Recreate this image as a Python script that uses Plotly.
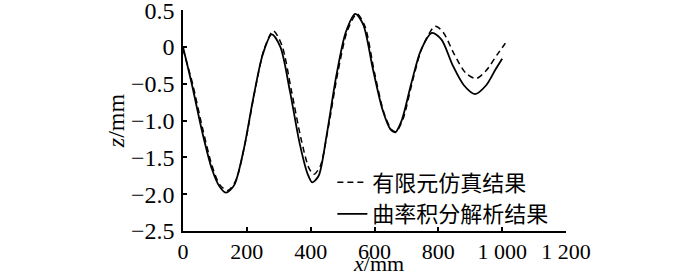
import plotly.graph_objects as go

# FEM simulation result (dashed)
fem_x = [0, 30, 60, 90, 115, 140, 165, 195, 225, 255, 283, 310, 340, 370, 395, 410, 430, 455, 485, 515,
         545, 570, 600, 630, 655, 668, 690, 720, 750, 790, 815, 850, 885, 918, 950, 985, 1010]
fem_z = [-0.03, -0.5, -1.08, -1.6, -1.87, -1.95, -1.82, -1.3, -0.6, -0.02, 0.22, 0.02, -0.6, -1.25, -1.65, -1.73,
         -1.62, -1.1, -0.35, 0.22, 0.45, 0.28, -0.35, -0.9, -1.13, -1.15, -0.97, -0.45, 0.0, 0.28, 0.2, -0.1,
         -0.35, -0.43, -0.32, -0.1, 0.05]

# Curvature integration analytical result (solid)
ana_x = [0, 30, 60, 90, 115, 135, 160, 190, 220, 250, 278, 305, 335, 365, 390, 405, 425, 450, 480, 510,
         540, 565, 595, 625, 650, 665, 685, 715, 745, 780, 810, 845, 880, 915, 950, 980, 1000]
ana_z = [0.0, -0.55, -1.15, -1.65, -1.9, -1.98, -1.88, -1.4, -0.7, -0.1, 0.17, 0.0, -0.6, -1.3, -1.72, -1.84,
         -1.75, -1.2, -0.4, 0.2, 0.45, 0.3, -0.3, -0.85, -1.12, -1.16, -1.0, -0.5, -0.05, 0.19, 0.1, -0.25,
         -0.52, -0.64, -0.52, -0.3, -0.16]

x_ticks = [0, 200, 400, 600, 800, 1000, 1200]
x_tick_text = ["0", "200", "400", "600", "800", "1 000", "1 200"]
y_ticks = [0.5, 0, -0.5, -1.0, -1.5, -2.0, -2.5]
y_tick_text = ["0.5", "0", "\u22120.5", "\u22121.0", "\u22121.5", "\u22122.0", "\u22122.5"]

fig = go.Figure()
fig.add_trace(go.Scatter(x=fem_x, y=fem_z, mode="lines", name="有限元仿真结果",
                         line=dict(color="black", width=1.5, dash="6px,4px", shape="spline", smoothing=0.8)))
fig.add_trace(go.Scatter(x=ana_x, y=ana_z, mode="lines", name="曲率积分解析结果",
                         line=dict(color="black", width=1.8, shape="spline", smoothing=0.8)))

serif = "Liberation Serif"
fig.update_layout(
    width=700, height=278,
    margin=dict(l=183, r=134, t=10, b=47),
    paper_bgcolor="white", plot_bgcolor="white",
    font=dict(family=serif, size=24, color="black"),
    showlegend=True,
    legend=dict(x=0.39, y=-0.02, xanchor="left", yanchor="bottom",
                bgcolor="rgba(0,0,0,0)", borderwidth=0,
                font=dict(family="Noto Sans CJK SC", size=22, color="black"),
                tracegroupgap=0, itemwidth=30),
    xaxis=dict(range=[0, 1200], tickvals=x_ticks, ticktext=x_tick_text, automargin=False,
               showgrid=False, zeroline=False, showline=True, linecolor="black", linewidth=1.5,
               ticks="inside", ticklen=4, tickwidth=1.5, tickcolor="black",
               tickfont=dict(family=serif, size=22),
               ticklabeloverflow="allow"),
    yaxis=dict(range=[-2.5, 0.502], tickvals=y_ticks, ticktext=y_tick_text, automargin=False,
               showgrid=False, zeroline=False, showline=True, linecolor="black", linewidth=1.5,
               ticks="inside", ticklen=4, tickwidth=1.5, tickcolor="black",
               tickfont=dict(family=serif, size=24), ticklabelstandoff=2,
               ticklabeloverflow="allow",
               title=dict(text="<i>z</i>/mm", font=dict(family=serif, size=24), standoff=0)),
    annotations=[dict(text="<i>x</i>/mm", xref="paper", yref="paper", x=0.51, y=-47 / 221,
                      xanchor="center", yanchor="bottom", showarrow=False,
                      font=dict(family=serif, size=22))],
)
fig.write_html("out.html")
